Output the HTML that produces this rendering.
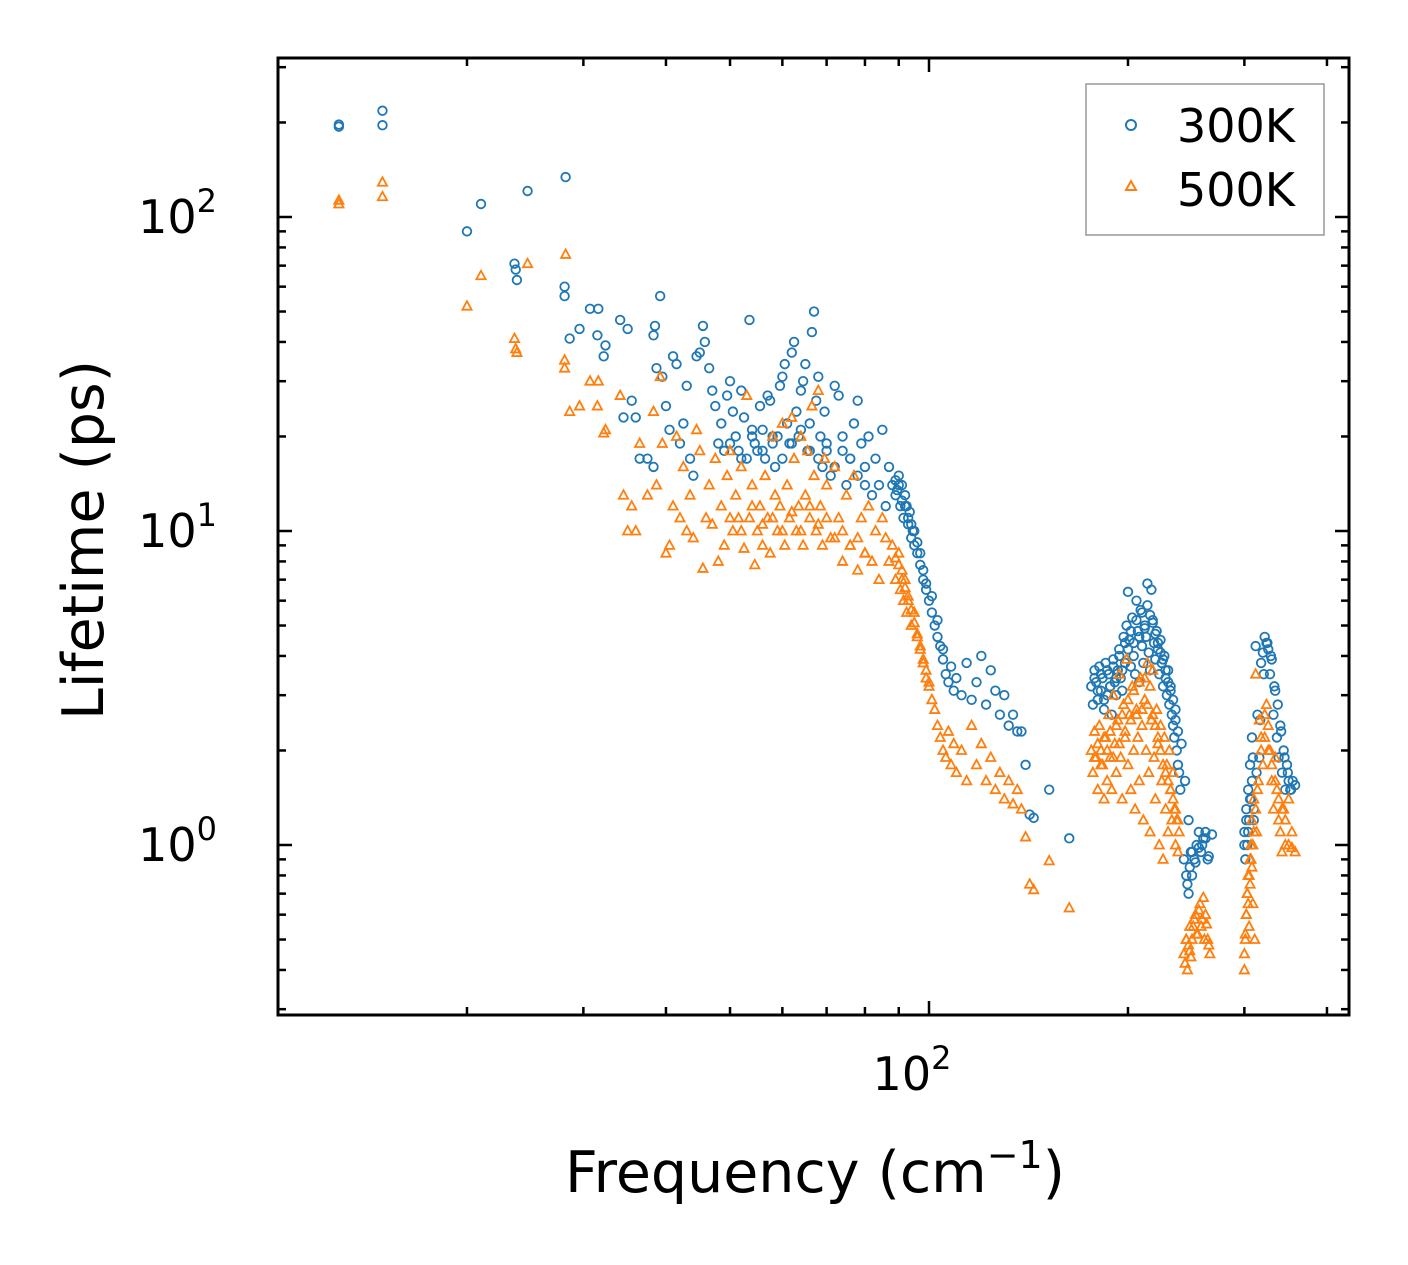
<!DOCTYPE html>
<html><head><meta charset="utf-8"><style>
body{margin:0;background:#fff;}
svg{display:block;font-family:"DejaVu Sans","Liberation Sans",sans-serif;}
</style></head><body>
<svg id="chart" width="1408" height="1265" xmlns="http://www.w3.org/2000/svg">
<rect x="0" y="0" width="1408" height="1265" fill="#fff"/>
<g id="marks300"></g>
<g id="marks500"></g>
<g id="ticks"></g>
<rect x="278" y="58" width="1071" height="957" fill="none" stroke="#000" stroke-width="3"/>
<g font-size="46" text-anchor="end">
<text x="217" y="233">10<tspan font-size="32" dy="-21">2</tspan></text>
<text x="217" y="547">10<tspan font-size="32" dy="-21">1</tspan></text>
<text x="217" y="861">10<tspan font-size="32" dy="-21">0</tspan></text>
</g>
<text x="912" y="1090" font-size="46" text-anchor="middle">10<tspan font-size="32" dy="-21">2</tspan></text>
<text transform="translate(103,540) rotate(-90)" font-size="57" text-anchor="middle">Lifetime (ps)</text>
<text x="815" y="1192" font-size="57" text-anchor="middle">Frequency (cm<tspan font-size="38" dy="-24">−1</tspan><tspan dy="24">)</tspan></text>
<g>
<rect x="1086" y="84" width="238" height="151" fill="#fff" stroke="#999" stroke-width="1.5"/>
<circle cx="1131" cy="125" r="5" fill="none" stroke="#1f77b4" stroke-width="2"/>
<text x="1177" y="142" font-size="46">300K</text>
<path d="M1131,181 l5,9 h-10 z" fill="none" stroke="#ff7f0e" stroke-width="2"/>
<text x="1177" y="206" font-size="46">500K</text>
</g>
</svg>
<script>
const freq300=[12.8,12.8,14.9,14.9,20,21,23.6,23.7,23.8,24.7,28.2,28.1,28.1,28.6,29.6,30.7,31.6,31.5,32.2,32.4,34.1,35,34.5,35.5,36,36.5,37.5,38.3,39.2,38.5,38.3,38.7,39.5,40,40.5,41,41.5,42,42.5,43,43.5,44,44.5,45,45.5,45.8,46.5,47,47.5,48,48.5,49,49.5,50,50.5,51,51.5,52,52.5,53,53.5,54,54.5,55,55.5,56,56.5,57,57.5,58,58.5,59,59.5,60,60.5,61,61.5,62,62.5,63,63.5,64,64.5,65,65.5,66,66.5,67,67.5,68,68.5,69,69.5,70,71,72,73,74,75,76,77,78,79,80,81,82,83,84,85,86,87,88,89,90,90.5,91,91.5,92,92.5,93,93.5,94,94.5,95,96,97,98,99,100,101,102,103,104,105,106,107,108,109,110,112,114,116,118,120,122,124,126,128,130,132,134,136,138,140,142,144,152,163,176,177,178,179,180,181,182,183,184,185,186,187,188,189,190,191,192,193,194,195,196,197,198,199,200,201,202,203,204,205,206,207,208,209,210,211,212,213,214,215,216,217,218,219,220,221,222,223,224,225,226,227,228,229,230,231,232,233,234,235,236,237,238,239,240,243,245,246,247,248,249,250,252,254,256,258,260,262,264,300,301,302,303,304,305,306,307,308,309,310,312,314,316,318,320,322,324,326,328,330,332,334,336,338,340,342,344,346,348,350,352,355,358,
50,52,54,56,58,60,62,64,66,68,70,72,74,76,78,80,89,89.5,90,91,92,93,94,95,96,97,98,99,101,103,105,178,180,182,184,186,188,190,192,194,196,198,200,202,204,206,208,210,212,214,216,218,220,222,224,226,228,230,232,234,236,238,241,244,247,250,253,256,259,262,265,268,300,302,304,306,308,310,313,317,321,325,329,333,337,341,345,349,353,356];
const life300=[194,197,218,196,90,110,71,68,63,121,134,60,56,41,44,51,51,42,36,39,47,44,23,26,23,17,17,16,56,45,42,33,31,25,21,36,34,19,22,29,17,15,36,37,45,40,33,28,25,19,22,18,27,30,24,20,18,28,23,17,47,20,19,18,25,21,17,27,26,19,16,20,29,31,34,22,19,37,40,24,20,28,30,34,18,22,43,50,26,31,20,16,24,18,15,29,27,20,14,17,22,26,19,16,20,13,17,14,21,12,16,14,13,15,12,14,11,13,12,10.5,11.5,9.5,10,9,8.5,7.8,7,6.5,6,5.5,5,4.6,4.3,3.9,3.5,3.3,3.7,3.1,3.4,3,3.8,2.9,3.3,4,2.8,3.6,3.1,2.6,3,2.4,2.6,2.3,2.3,1.8,1.25,1.22,1.5,1.05,3.2,2.8,3.6,3.3,2.9,3.7,3.1,3.4,2.7,3.8,3,3.5,3.2,2.6,3.9,3.3,3,3.6,4.2,3.4,3.1,4.6,3.8,5,6.4,4.5,3.7,5.3,4,3.5,6,4.8,3.3,5.6,4.3,3.8,5,4.6,6.8,4.1,3.6,6.5,5.2,4.4,3.9,4.8,4.2,3.5,4.5,3.8,3.2,4,3.4,3,3.6,2.8,3.1,2.6,2.4,2.2,2.5,2,1.8,1.7,1.5,0.9,0.8,0.75,0.7,0.85,0.95,0.8,0.9,1.0,1.1,0.95,1.05,1.1,0.9,1.1,0.9,1.3,1.0,1.5,1.2,1.8,1.4,2.2,1.9,1.2,4.3,2.6,1.9,3.8,4.1,4.6,4.4,4.2,3.5,3.9,2.6,3.1,2.2,1.9,2.4,1.7,2,1.5,1.8,1.6,1.5,1.6,1.55,
19,17,21,18,20,17,19,21,18,17,19,16,18,17,15,14,14.5,13.5,14,12.5,12,11,10.5,10,9.2,8.5,7.5,6.8,6.2,5.2,4.2,3.4,3.1,3.5,2.9,3.6,3.2,3.7,3.4,4,3.6,4.4,4.2,4.8,4.4,5.2,4.6,5.5,4.9,5.8,5.4,5.1,4.7,4.4,4.1,3.9,3.6,3.3,3.2,2.9,2.7,2.3,2.1,1.6,1.2,0.95,0.88,0.98,1.0,1.05,0.92,1.08,1.0,1.2,1.1,1.4,1.6,1.3,1.7,2.5,3.5,4.4,4.0,3.2,2.8,2.3,1.9,1.7,1.5];
const freq500=[12.8,12.8,14.9,14.9,20,21,23.6,23.7,23.8,24.7,28.2,28.1,28.1,28.6,29.6,30.7,31.6,31.5,32.2,32.4,34.1,34.5,35,35.5,36,36.5,37.5,38.3,38.7,39.2,39.5,40,40.5,41,41.5,42,42.5,43,43.5,44,44.5,45,45.5,46,46.5,47,47.5,48,48.5,49,49.5,50,50.5,51,51.5,52,52.5,53,53.5,54,54.5,55,55.5,56,56.5,57,57.5,58,58.5,59,59.5,60,60.5,61,61.5,62,62.5,63,63.5,64,64.5,65,65.5,66,66.5,67,67.5,68,68.5,69,69.5,70,71,72,73,74,75,76,77,78,79,80,81,82,83,84,85,86,87,88,89,90,90.5,91,91.5,92,92.5,93,94,95,96,97,98,99,100,101,102,103,104,105,106,107,108,109,110,112,114,116,118,120,122,124,126,128,130,132,134,136,138,140,142,144,152,163,176,177,178,179,180,181,182,183,184,185,186,187,188,189,190,191,192,193,194,195,196,197,198,199,200,201,202,203,204,205,206,207,208,209,210,211,212,213,214,215,216,217,218,219,220,221,222,223,224,225,226,227,228,229,230,231,232,233,234,235,236,237,238,239,243,244,245,246,247,248,249,250,252,254,256,258,260,262,264,266,300,301,302,303,304,305,306,307,308,309,310,311,312,313,315,316,318,320,322,324,326,328,330,332,334,336,338,340,342,344,346,350,354,358,
50,52,54,56,58,60,62,64,66,68,70,72,74,76,78,80,89,90,91,92,93,94,95,96,97,98,99,100,178,180,182,184,186,188,190,192,194,196,198,200,202,204,206,208,210,212,214,216,218,220,222,224,226,228,230,232,234,236,238,245,248,251,253,255,257,259,261,263,265,300,301,302,303,304,305,306,307,308,309,310,312,314,318,322,326,330,334,338,342,346,350,354];
const life500=[113,110,129,116,52,65,41,38,37,71,76,35,33,24,25,30,30,25,20.5,21,27,13,10,12,10,19,13,24,14,31,19,8.5,9,12,20,11,16,10,13,9.5,21,18,7.6,11,14,10.5,17,8,12,9,15,18,10,13,11,16,8.8,27,11,14,7.8,10,12,9,15,11,8.5,20,13,10,12,22,9,14,11,23,17,10,12,20,9,13,18,11,25,15,10,28,12,9,17,14,9.5,16,11,8,13,9,15,7.5,11,8.5,12,8,10,7,11,9.5,8,9,7,8.5,6.5,7.5,6,7,5.5,6,5,5.5,4.6,4.2,3.8,3.4,3.2,2.9,2.7,2.4,2.2,2,1.9,2.3,1.8,2.1,1.7,2,1.6,2.4,1.8,2.1,1.6,1.9,1.5,1.7,1.4,1.6,1.35,1.5,1.3,1.06,0.75,0.72,0.89,0.63,2,1.7,2.3,1.9,1.5,2.4,2,1.8,1.4,2.2,1.6,2.6,1.9,1.5,3,2.1,1.7,2.5,3.5,1.9,1.4,2.8,2.2,3.9,1.8,2.6,1.5,3.2,2,1.3,2.7,2.2,1.6,3.4,2.4,1.2,2.9,2,3.8,1.7,1.1,2.5,3.6,1.9,1.4,2.7,2.1,1,2.4,1.6,0.9,2.2,1.3,1.8,1.1,2,1.5,1.2,1.7,1.3,1,1.2,0.95,1.1,0.45,0.42,0.5,0.4,0.48,0.55,0.44,0.5,0.58,0.52,0.62,0.55,0.68,0.6,0.5,0.45,0.4,0.5,0.6,0.7,0.8,0.55,0.9,1.0,1.2,0.65,1.4,0.5,3.5,1.1,1.6,2.5,2.2,1.8,2.6,2.8,2.4,2,1.6,1.3,1.9,1.5,1.2,1.1,0.95,1.3,1.0,1.4,1.1,0.95,
11,10,12,10.5,11,10,11.5,10,12,10.5,11,9.5,10,9,9.5,8.5,8.2,7.8,7,6.6,6.2,5.6,5.1,4.7,4.3,3.9,3.6,3.3,1.9,2.1,1.8,2.2,2,2.3,1.9,2.4,2.1,2.6,2.3,2.9,2.5,3.1,2.6,3.3,2.7,3.4,2.8,3.2,2.6,2.4,2.2,2.0,1.8,1.7,1.6,1.5,1.4,1.3,1.2,0.5,0.46,0.55,0.6,0.52,0.65,0.58,0.5,0.56,0.48,0.45,0.52,0.6,0.7,0.65,0.8,0.75,0.9,0.85,1.0,1.1,1.3,1.5,2.0,2.2,2.0,1.8,1.6,1.4,1.3,1.2,1.0,0.98];
const X0=929, XDEC=661, Y0=845, YDEC=314;
function xs(f){return X0+XDEC*Math.log10(f/100);}
function ys(t){return Y0-YDEC*Math.log10(t);}
const NS="http://www.w3.org/2000/svg";
const g3=document.getElementById('marks300');
for(let i=0;i<Math.min(freq300.length,life300.length);i++){
  const c=document.createElementNS(NS,'circle');
  c.setAttribute('cx',xs(freq300[i]));c.setAttribute('cy',ys(life300[i]));c.setAttribute('r',4.3);
  c.setAttribute('fill','none');c.setAttribute('stroke','#1f77b4');c.setAttribute('stroke-width',1.8);
  
  
  g3.appendChild(c);
}
const g5=document.getElementById('marks500');
for(let i=0;i<Math.min(freq500.length,life500.length);i++){
  const x=xs(freq500[i]), y=ys(life500[i]);
  const p=document.createElementNS(NS,'path');
  p.setAttribute('d',`M${x},${y-5} L${x+4.6},${y+3.5} L${x-4.6},${y+3.5} Z`);
  p.setAttribute('fill','none');p.setAttribute('stroke','#ff7f0e');p.setAttribute('stroke-width',1.8);
  
  
  g5.appendChild(p);
}
const gt=document.getElementById('ticks');
function line(x1,y1,x2,y2){
  const l=document.createElementNS(NS,'line');
  l.setAttribute('x1',x1);l.setAttribute('y1',y1);l.setAttribute('x2',x2);l.setAttribute('y2',y2);
  l.setAttribute('stroke','#000');l.setAttribute('stroke-width',2.5);
  
  
  gt.appendChild(l);
}
for(let d=0.1;d<=100;d*=10){for(let m=1;m<10;m++){const v=Math.round(d*m*1000)/1000;const y=ys(v);if(y<58||y>1015)continue;const L=(m===1)?14:8;line(278,y,278+L,y);line(1349,y,1349-L,y);}}
for(let d=10;d<=100;d*=10){for(let m=1;m<10;m++){const v=d*m;const x=xs(v);if(x<278||x>1349)continue;const L=(m===1)?14:8;line(x,1015,x,1015-L);line(x,58,x,58+L);}}
</script>
</body></html>
